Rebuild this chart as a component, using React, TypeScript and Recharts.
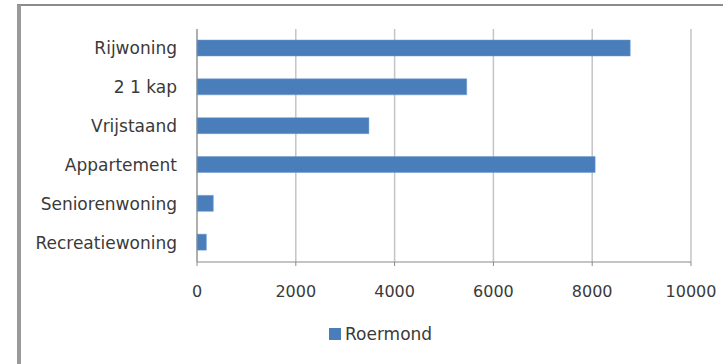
import { BarChart, Bar, XAxis, YAxis, CartesianGrid } from "recharts";

const categories = [
  "Rijwoning",
  "2 1 kap",
  "Vrijstaand",
  "Appartement",
  "Seniorenwoning",
  "Recreatiewoning",
];
const roermond = [8770, 5460, 3480, 8060, 330, 190];
const xTicks = [0, 2000, 4000, 6000, 8000, 10000];
const seriesName = "Roermond";

const data = categories.map((name, i) => ({ name, value: roermond[i] }));

const font = "'DejaVu Sans', sans-serif";
const textColor = "#3a3a3a";

export default function App() {
  return (
    <div
      style={{
        position: "absolute",
        left: 0,
        top: 0,
        width: 723,
        height: 364,
        background: "#fff",
        fontFamily: font,
      }}
    >
      {/* frame lines */}
      <div
        style={{
          position: "absolute",
          left: 17,
          top: 4,
          width: 706,
          height: 2,
          background: "#8c8c8c",
        }}
      />
      <div
        style={{
          position: "absolute",
          left: 17,
          top: 5,
          width: 4,
          height: 359,
          background: "#9a9a9a",
        }}
      />
      <BarChart
        width={723}
        height={364}
        data={data}
        layout="vertical"
        margin={{ top: 29, right: 32, bottom: 72, left: 0 }}
        style={{ position: "absolute", left: 0, top: 0 }}
      >
        <CartesianGrid
          horizontal={false}
          stroke="#c4c4c4"
          strokeWidth={1.5}
        />
        <XAxis
          type="number"
          domain={[0, 10000]}
          ticks={xTicks}
          height={30}
          tickSize={4}
          tickMargin={20}
          stroke="#8a8a8a"
          tick={{ fill: textColor, fontSize: 16, fontFamily: font }}
        />
        <YAxis
          type="category"
          dataKey="name"
          width={197}
          tickSize={0}
          tickMargin={20}
          stroke="#8a8a8a"
          tick={{ fill: textColor, fontSize: 17, fontFamily: font }}
        />
        <Bar
          dataKey="value"
          fill="#4a7ebb"
          stroke="#6f9bd0"
          strokeWidth={0.5}
          barSize={16}
          isAnimationActive={false}
        />
      </BarChart>
      <div
        style={{
          position: "absolute",
          left: 329,
          top: 324,
          display: "flex",
          alignItems: "center",
          fontSize: 17,
          color: textColor,
        }}
      >
        <span
          style={{
            display: "inline-block",
            width: 12,
            height: 12,
            background: "#4a7ebb",
            marginRight: 4,
          }}
        />
        <span>{seriesName}</span>
      </div>
    </div>
  );
}
